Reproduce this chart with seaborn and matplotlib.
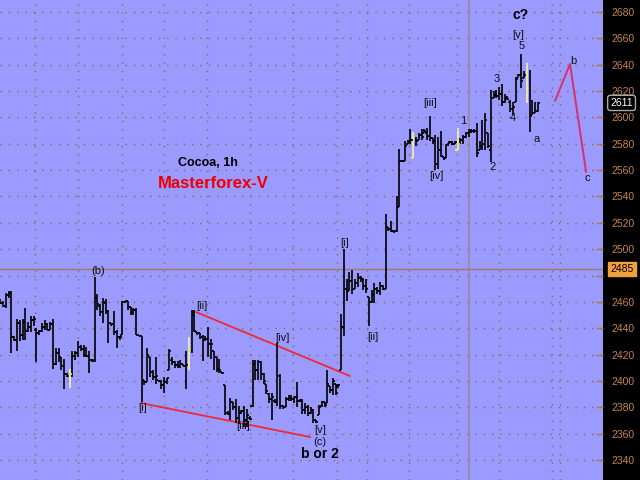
import numpy as np
import matplotlib
matplotlib.use("Agg")
import matplotlib.pyplot as plt
import seaborn as sns

# hourly OHLC bars (left to right)
opens = [
    2461, 2459, 2457, 2465, 2467, 2433, 2431, 2444, 2435, 2445,
    2438, 2441, 2446, 2439, 2436, 2438, 2441, 2443, 2439, 2443,
    2413, 2421, 2418, 2411, 2405, 2404, 2405, 2419, 2421, 2426,
    2424, 2420, 2419, 2416, 2416, 2463, 2457, 2452, 2459, 2453,
    2444, 2443, 2437, 2433, 2435, 2460, 2461, 2456, 2452, 2454,
    2435, 2434, 2401, 2399, 2418, 2407, 2403, 2401, 2400, 2397,
    2399, 2408, 2416, 2414, 2412, 2411, 2413, 2411, 2412, 2423,
    2452, 2437, 2436, 2433, 2431, 2432, 2428, 2423, 2418, 2409,
    2407, 2397, 2376, 2375, 2384, 2380, 2372, 2376, 2377, 2370,
    2372, 2381, 2413, 2408, 2414, 2405, 2398, 2390, 2386, 2385,
    2384, 2404, 2381, 2380, 2386, 2387, 2386, 2388, 2385, 2385,
    2378, 2380, 2376, 2378, 2370, 2374, 2381, 2384, 2383, 2396,
    2393, 2398, 2396, 2408, 2441, 2470, 2468, 2476, 2470, 2474,
    2478, 2477, 2472, 2464, 2460, 2465, 2470, 2468, 2472, 2470,
    2517, 2515, 2514, 2514, 2532, 2567, 2567, 2580, 2581, 2569,
    2584, 2583, 2587, 2588, 2588, 2586, 2584, 2582, 2565, 2575,
    2570, 2569, 2580, 2581, 2580, 2575, 2580, 2583, 2585, 2588,
    2589, 2590, 2590, 2575, 2578, 2580, 2588, 2575, 2615, 2617,
    2616, 2618, 2612, 2615, 2612, 2606, 2612, 2630, 2632, 2630,
    2632, 2622, 2602, 2603, 2605,
]
highs = [
    2462, 2461, 2467, 2468, 2468, 2434, 2447, 2446, 2447, 2455,
    2445, 2449, 2449, 2440, 2439, 2444, 2446, 2444, 2445, 2447,
    2425, 2425, 2418, 2417, 2406, 2409, 2423, 2423, 2430, 2427,
    2427, 2426, 2423, 2417, 2479, 2466, 2458, 2463, 2462, 2454,
    2444, 2453, 2439, 2434, 2461, 2461, 2461, 2456, 2455, 2455,
    2435, 2434, 2401, 2425, 2418, 2408, 2418, 2401, 2401, 2403,
    2402, 2424, 2418, 2415, 2415, 2416, 2413, 2423, 2433, 2454,
    2454, 2437, 2436, 2435, 2434, 2441, 2432, 2423, 2418, 2417,
    2407, 2397, 2377, 2387, 2384, 2386, 2381, 2378, 2381, 2379,
    2373, 2416, 2416, 2416, 2415, 2406, 2398, 2391, 2391, 2386,
    2429, 2405, 2382, 2388, 2389, 2389, 2388, 2399, 2386, 2386,
    2383, 2382, 2380, 2379, 2370, 2382, 2385, 2384, 2408, 2396,
    2402, 2398, 2398, 2451, 2500, 2477, 2483, 2484, 2477, 2482,
    2480, 2478, 2477, 2464, 2469, 2474, 2471, 2475, 2473, 2527,
    2517, 2521, 2514, 2540, 2576, 2568, 2582, 2583, 2591, 2589,
    2585, 2588, 2591, 2591, 2592, 2601, 2584, 2587, 2585, 2590,
    2570, 2580, 2582, 2582, 2582, 2592, 2584, 2587, 2589, 2591,
    2591, 2591, 2596, 2582, 2598, 2603, 2588, 2621, 2620, 2621,
    2623, 2625, 2618, 2616, 2613, 2612, 2631, 2633, 2648, 2635,
    2641, 2636, 2613, 2612, 2612,
]
lows = [
    2458, 2456, 2455, 2463, 2421, 2430, 2423, 2430, 2431, 2431,
    2437, 2437, 2442, 2414, 2435, 2437, 2439, 2439, 2439, 2409,
    2412, 2414, 2408, 2394, 2403, 2395, 2403, 2416, 2418, 2423,
    2418, 2418, 2406, 2414, 2414, 2454, 2449, 2444, 2451, 2429,
    2442, 2435, 2425, 2431, 2435, 2459, 2454, 2450, 2450, 2435,
    2434, 2384, 2397, 2399, 2403, 2401, 2398, 2400, 2394, 2391,
    2398, 2408, 2412, 2410, 2410, 2410, 2411, 2394, 2408, 2421,
    2437, 2435, 2432, 2415, 2430, 2418, 2417, 2408, 2407, 2406,
    2405, 2374, 2374, 2370, 2378, 2368, 2367, 2375, 2365, 2365,
    2370, 2380, 2401, 2401, 2401, 2398, 2390, 2383, 2370, 2383,
    2381, 2379, 2379, 2380, 2385, 2385, 2383, 2380, 2384, 2375,
    2375, 2373, 2375, 2368, 2368, 2374, 2380, 2380, 2383, 2391,
    2389, 2389, 2395, 2408, 2434, 2461, 2468, 2466, 2470, 2471,
    2475, 2469, 2467, 2442, 2459, 2459, 2466, 2465, 2469, 2470,
    2514, 2513, 2512, 2513, 2532, 2566, 2567, 2580, 2580, 2569,
    2578, 2583, 2583, 2588, 2583, 2582, 2580, 2560, 2561, 2570,
    2568, 2569, 2580, 2579, 2580, 2575, 2580, 2580, 2584, 2585,
    2588, 2588, 2570, 2575, 2575, 2575, 2577, 2566, 2615, 2615,
    2613, 2609, 2611, 2613, 2604, 2602, 2612, 2630, 2622, 2630,
    2611, 2589, 2602, 2603, 2604,
]
closes = [
    2459, 2457, 2465, 2467, 2433, 2431, 2444, 2435, 2445, 2438,
    2441, 2446, 2447, 2436, 2438, 2441, 2443, 2439, 2443, 2413,
    2421, 2418, 2411, 2405, 2404, 2405, 2419, 2421, 2426, 2424,
    2420, 2419, 2416, 2415, 2463, 2458, 2452, 2460, 2453, 2444,
    2443, 2437, 2433, 2433, 2460, 2461, 2456, 2452, 2454, 2435,
    2434, 2401, 2399, 2420, 2407, 2403, 2404, 2400, 2397, 2399,
    2402, 2423, 2414, 2412, 2411, 2413, 2411, 2412, 2423, 2450,
    2438, 2436, 2433, 2431, 2432, 2428, 2428, 2418, 2409, 2408,
    2406, 2376, 2375, 2384, 2380, 2372, 2376, 2377, 2370, 2374,
    2371, 2413, 2408, 2414, 2405, 2400, 2392, 2386, 2388, 2384,
    2404, 2381, 2380, 2386, 2387, 2386, 2388, 2385, 2385, 2378,
    2380, 2376, 2378, 2370, 2369, 2380, 2384, 2382, 2398, 2393,
    2400, 2391, 2397, 2441, 2470, 2468, 2476, 2470, 2474, 2478,
    2477, 2472, 2470, 2460, 2465, 2470, 2468, 2472, 2470, 2517,
    2515, 2514, 2514, 2532, 2567, 2567, 2578, 2582, 2583, 2584,
    2582, 2587, 2585, 2590, 2586, 2584, 2582, 2565, 2575, 2571,
    2569, 2579, 2581, 2580, 2581, 2580, 2583, 2585, 2588, 2589,
    2590, 2590, 2573, 2578, 2580, 2598, 2578, 2615, 2617, 2616,
    2618, 2612, 2615, 2614, 2606, 2608, 2629, 2632, 2628, 2632,
    2622, 2601, 2603, 2605, 2611,
]
yellow_bars = [25, 68, 149, 165, 190]

price_ticks = list(range(2340, 2681, 20))
session_lines = [12.5, 28.0, 43.9, 59.1, 74.6, 90.1, 105.6, 121.5, 132.3,
                 147.5, 164.8, 180.0, 199.1, 202.0]
last_price = 2611
cross_price = 2485
cross_bar = 169.2

# wedge trend lines and the projected a-b-c path
upper_x, upper_y = [70.6, 126.2], [2452.3, 2403.7]
lower_x, lower_y = [50.8, 111.8], [2383.2, 2357.4]
proj_x, proj_y = [200.2, 205.6, 211.4], [2612.5, 2640.5, 2558.6]

# wave counts: text, bar position, price
wave_labels = [
    ("(b)", 35.2, 2483.4), ("[i]", 51.5, 2379.4), ("[ii]", 72.8, 2456.9),
    ("[iii]", 87.6, 2365.8), ("[iv]", 101.7, 2432.6), ("[v]", 115.4, 2362.7),
    ("(c)", 115.4, 2353.6), ("[i]", 124.4, 2504.7), ("[ii]", 134.5, 2433.3),
    ("[iii]", 155.1, 2611.0), ("[iv]", 157.3, 2555.5), ("1", 167.0, 2597.3),
    ("2", 177.8, 2562.4), ("3", 179.0, 2629.1), ("4", 185.1, 2599.5),
    ("5", 188.0, 2654.2), ("[v]", 186.9, 2662.5), ("a", 193.7, 2583.6),
    ("b", 206.7, 2642.8), ("c", 211.8, 2554.0),
]

sns.set_style("white")
plt.rcParams['font.family'] = ['Liberation Sans', 'DejaVu Sans']

bg = '#9a9aff'
grid_c = '#8a6a4a'

fig = plt.figure(figsize=(6.4, 4.8), dpi=100, facecolor='black')
ax = fig.add_axes([0, 0, 603 / 640, 1])
ax.set_facecolor(bg)

# dotted grid
for p in price_ticks:
    ax.axhline(p, color=grid_c, lw=1, ls=(0, (1, 5)), zorder=0)
for s in session_lines:
    ax.axvline(s, color=grid_c, lw=1, ls=(0, (1, 5)), zorder=0)

# crosshair
ax.axhline(cross_price, color='#a07a62', lw=1, zorder=1)
ax.axvline(cross_bar, color='#9a88a0', lw=1.2, zorder=1)

# OHLC bars
x = np.arange(len(opens))
bar_c = ['black'] * len(opens)
tick_c = ['black'] * len(opens)
for i in yellow_bars:
    bar_c[i] = '#f2f2a6'
    tick_c[i] = '#ffff20'
ax.vlines(x, lows, highs, colors=bar_c, lw=1.2, zorder=3)
ax.hlines(opens, x - 0.75, x, colors=tick_c, lw=1.2, zorder=4)
ax.hlines(closes, x, x + 0.75, colors=tick_c, lw=1.2, zorder=4)

# trend lines
sns.lineplot(x=upper_x, y=upper_y, ax=ax, color='#f02838', lw=1.3, sort=False)
sns.lineplot(x=lower_x, y=lower_y, ax=ax, color='#f02838', lw=1.3, sort=False)
sns.lineplot(x=proj_x, y=proj_y, ax=ax, color='#d8306a', lw=1.4, sort=False)

for txt, bx, py in wave_labels:
    ax.text(bx, py, txt, fontsize=8, ha='center', va='center', color='#101010')

ax.text(115.4, 2344.5, "b or 2", fontsize=10, fontweight='bold',
        ha='center', va='center', color='black')
ax.text(187.6, 2677.7, "c?", fontsize=10, fontweight='bold',
        ha='center', va='center', color='black')
ax.text(75.0, 2565.4, "Cocoa, 1h", fontsize=9, fontweight='bold',
        ha='center', va='center', color='black')
ax.text(76.8, 2550.2, "Masterforex-V", fontsize=12, fontweight='bold',
        ha='center', va='center', color='#ee0000')

ax.set_xlim(-0.144, 217.5)
ax.set_ylim(2324.8, 2689.1)
ax.set_xticks([])
ax.set_yticks(price_ticks)
# the 2480 label sits under the crosshair price box
ax.set_yticklabels(['' if p == 2480 else str(p) for p in price_ticks])
ax.yaxis.tick_right()
ax.tick_params(axis='y', direction='in', length=5, width=1, color='#b07840',
               labelcolor='#c4844c', labelsize=7.5, pad=6)
for sp in ax.spines.values():
    sp.set_visible(False)

# price boxes on the right axis
ytr = ax.get_yaxis_transform()
ax.text(1.012, last_price, str(last_price), transform=ytr, fontsize=7.5,
        color='white', ha='left', va='center', clip_on=False,
        bbox=dict(boxstyle='round,pad=0.25', fc='black', ec='#a8a8a8', lw=1))
ax.text(1.012, cross_price, str(cross_price), transform=ytr, fontsize=7.5,
        color='black', ha='left', va='center', clip_on=False,
        bbox=dict(boxstyle='square,pad=0.2', fc='#f0a040', ec='#f0a040'))

fig.savefig('out.png', dpi=100, facecolor='black')
